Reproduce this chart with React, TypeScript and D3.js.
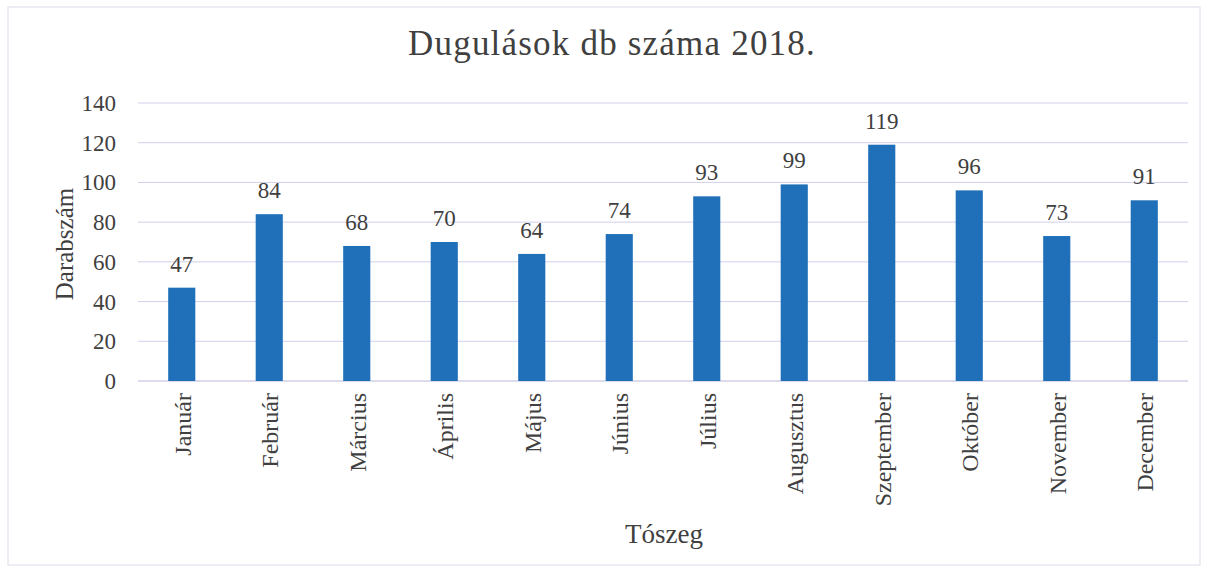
import React from "react";
import * as d3 from "d3";

const months = ["Január", "Február", "Március", "Április", "Május", "Június", "Július", "Augusztus", "Szeptember", "Október", "November", "December"];
const counts = [47, 84, 68, 70, 64, 74, 93, 99, 119, 96, 73, 91];
const yTicks = [0, 20, 40, 60, 80, 100, 120, 140];

const W = 1214, H = 573;
const left = 138, right = 1188, top = 103, bottom = 381;
const font = "'Liberation Serif', 'Times New Roman', serif";
const textColor = "#404040";

export default function App() {
  const x = d3.scaleBand().domain(months).range([left, right]).paddingInner(0.69).paddingOuter(0.345);
  const y = d3.scaleLinear().domain([0, 140]).range([bottom, top]);
  return (
    <svg width={W} height={H} style={{ position: "absolute", left: 0, top: 0, background: "#fff" }}>
      <rect x={8} y={7} width={1192} height={558} fill="none" stroke="#dcdcec" strokeWidth={1} />
      <text x={612} y={55} textAnchor="middle" fontFamily={font} fontSize={35} letterSpacing={1.2} fill={textColor}>Dugulások db száma 2018.</text>
      {yTicks.map(t => (
        <g key={t}>
          <line x1={left} x2={right} y1={y(t)} y2={y(t)} stroke={t === 0 ? "#b8b8dc" : "#d0d0ec"} strokeWidth={1} />
          <text x={116} y={y(t)} dy="0.35em" textAnchor="end" fontFamily={font} fontSize={23} fill={textColor}>{t}</text>
        </g>
      ))}
      {months.map((m, i) => {
        const cx = (x(m) as number) + x.bandwidth() / 2;
        return (
          <g key={m}>
            <rect x={x(m)} y={y(counts[i])} width={x.bandwidth()} height={bottom - y(counts[i])} fill="#1f70b8" />
            <text x={cx} y={y(counts[i]) - 16} textAnchor="middle" fontFamily={font} fontSize={23} fill={textColor}>{counts[i]}</text>
            <text transform={`translate(${cx + 9},393) rotate(-90)`} textAnchor="end" fontFamily={font} fontSize={24} fill={textColor}>{m}</text>
          </g>
        );
      })}
      <text transform={`translate(73,244) rotate(-90)`} textAnchor="middle" fontFamily={font} fontSize={25} fill={textColor}>Darabszám</text>
      <text x={664} y={543} textAnchor="middle" fontFamily={font} fontSize={27} fill={textColor}>Tószeg</text>
    </svg>
  );
}
